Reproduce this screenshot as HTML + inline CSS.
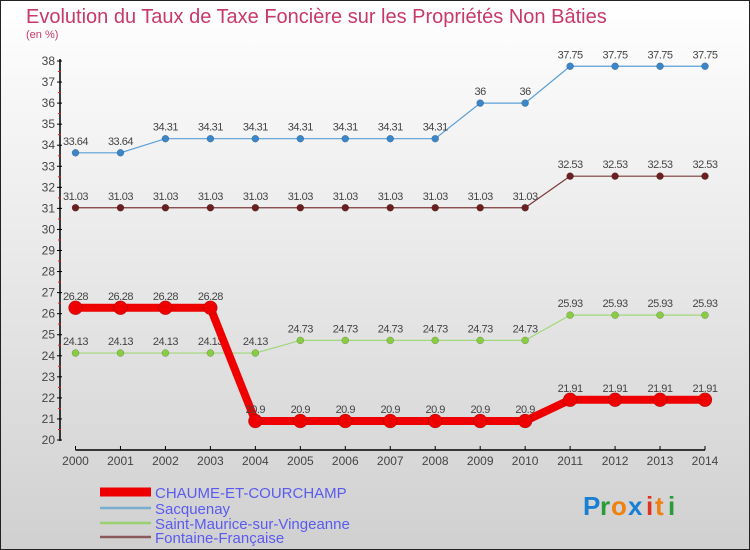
<!DOCTYPE html>
<html><head><meta charset="utf-8"><style>
body{margin:0;width:750px;height:550px;overflow:hidden;font-family:"Liberation Sans",sans-serif}
svg{display:block}
</style></head><body>
<svg id="chart" width="750" height="550" xmlns="http://www.w3.org/2000/svg">
<defs><linearGradient id="bg" x1="0" y1="0" x2="0" y2="1"><stop offset="0" stop-color="#ffffff"/><stop offset="1" stop-color="#d0d0d0"/></linearGradient></defs>
<rect x="0.5" y="0.5" width="749" height="549" fill="url(#bg)" stroke="#222" stroke-width="1"/>
<text x="26" y="23" font-size="20" fill="#c8386a">Evolution du Taux de Taxe Foncière sur les Propriétés Non Bâties</text>
<text x="26" y="38" font-size="11" fill="#c8386a">(en %)</text>
<g id="axes"></g><g id="series"></g><g id="legend"></g>
<g font-size="26" font-weight="bold">
<text x="583" y="515" fill="#1a7fd4">P</text><text x="600" y="515" fill="#2a9a3a">r</text><text x="611" y="515" fill="#f08010">o</text><text x="628" y="515" fill="#1a7fd4">x</text><text x="646" y="515" fill="#e03020">i</text><text x="655" y="515" fill="#f08010">t</text><text x="668" y="515" fill="#2a9a3a">i</text></g>
</svg>
<script>
const years=[2000,2001,2002,2003,2004,2005,2006,2007,2008,2009,2010,2011,2012,2013,2014];
const yTicks=[20,21,22,23,24,25,26,27,28,29,30,31,32,33,34,35,36,37,38];
const chaume=[26.28,26.28,26.28,26.28,20.9,20.9,20.9,20.9,20.9,20.9,20.9,21.91,21.91,21.91,21.91];
const sacquenay=[33.64,33.64,34.31,34.31,34.31,34.31,34.31,34.31,34.31,36,36,37.75,37.75,37.75,37.75];
const saintMaurice=[24.13,24.13,24.13,24.13,24.13,24.73,24.73,24.73,24.73,24.73,24.73,25.93,25.93,25.93,25.93];
const fontaine=[31.03,31.03,31.03,31.03,31.03,31.03,31.03,31.03,31.03,31.03,31.03,32.53,32.53,32.53,32.53];
const names=["CHAUME-ET-COURCHAMP","Sacquenay","Saint-Maurice-sur-Vingeanne","Fontaine-Française"];
const NS="http://www.w3.org/2000/svg";
const x=i=>75.5+i*(705-75.5)/(years.length-1);
const y=v=>440-(v-20)*(379/18);
function mk(t,a,p){const e=document.createElementNS(NS,t);for(const k in a)e.setAttribute(k,a[k]);p.appendChild(e);return e;}
const axes=document.getElementById('axes');
let e=mk('line',{x1:60,y1:59,x2:60,y2:441,stroke:'#000','stroke-width':1.5},axes);


yTicks.forEach(v=>{
 mk('line',{x1:57,x2:62,y1:y(v),y2:y(v),stroke:'#000'},axes);
 if(v<38)mk('line',{x1:58,x2:61,y1:y(v+0.5),y2:y(v+0.5),stroke:'#e02020'},axes);
 const t=mk('text',{x:55,y:y(v)+4,'text-anchor':'end','font-size':12,fill:'#444'},axes);
 t.textContent=v;
 
 
});
e=mk('line',{x1:75.5,y1:450,x2:705,y2:450,stroke:'#000','stroke-width':1.5},axes);


years.forEach((yr,i)=>{
 mk('line',{x1:x(i),x2:x(i),y1:446,y2:450,stroke:'#000'},axes);
 const t=mk('text',{x:x(i),y:465,'text-anchor':'middle','font-size':12,fill:'#444'},axes);
 t.textContent=yr;
 
 
});
const ser=document.getElementById('series');
function draw(data,color,w,r,fill,name){
 const g=mk('g',{},ser);
 
 
 mk('polyline',{points:data.map((v,i)=>x(i)+','+y(v)).join(' '),fill:'none',stroke:color,'stroke-width':w,'stroke-linejoin':'round'},g);
 data.forEach((v,i)=>{
  const c=mk('circle',{cx:x(i),cy:y(v),r:r,fill:fill,stroke:'rgba(0,0,0,0.3)','stroke-width':0.5},g);
  
  
  const t=mk('text',{x:x(i),y:y(v)-8,'text-anchor':'middle','font-size':11,fill:'#444','letter-spacing':'-0.5'},g);
  t.textContent=String(v).replace('.','.');
  
  
 });
}
draw(sacquenay,'#5aa0d8',1.2,3.5,'#3a86c8','series-sacquenay');
draw(fontaine,'#7a3a3a',1.2,3.5,'#6a2020','series-fontaine-francaise');
draw(saintMaurice,'#a0d878',1.2,3.5,'#88cc44','series-saint-maurice');
draw(chaume,'#ee0000',8,7,'#ee0000','series-chaume-et-courchamp');
const lg=document.getElementById('legend');
const lc=['#ee0000','#7aaed0','#9ad070','#8a5a5a'],lw=[9,2.5,2.5,2.5],ly=[492,508,523,537];
names.forEach((n,i)=>{
 const g=mk('g',{},lg);
 
 
 mk('line',{x1:100,x2:151,y1:ly[i],y2:ly[i],stroke:lc[i],'stroke-width':lw[i]},g);
 const t=mk('text',{x:155,y:ly[i]+6,'font-size':15,fill:'#5a5af0'},g);
 t.textContent=n;
});
</script>
</body></html>
